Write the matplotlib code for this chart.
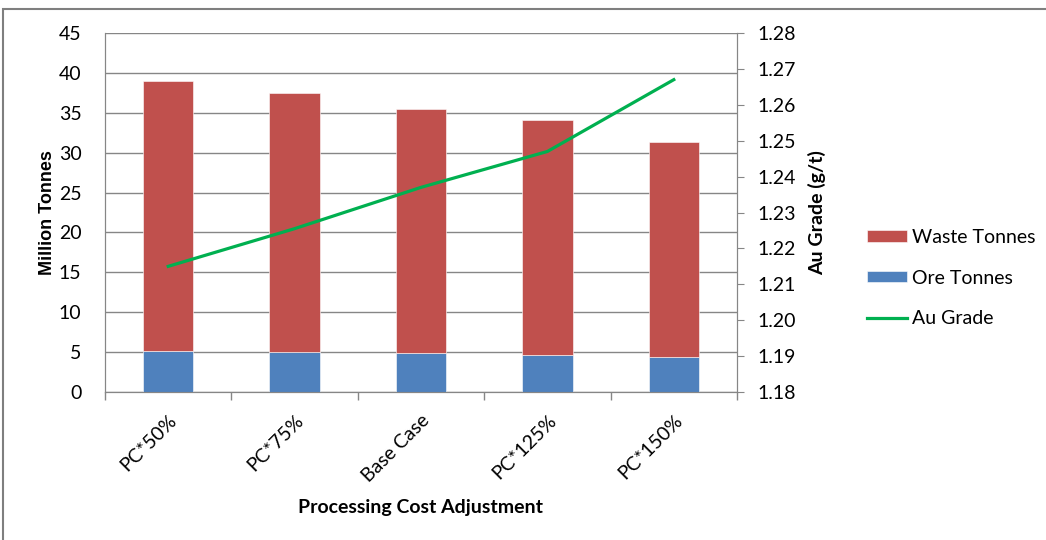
import matplotlib
matplotlib.use("Agg")
import matplotlib.pyplot as plt
from matplotlib.patches import Rectangle
import numpy as np

categories = ["PC*50%", "PC*75%", "Base Case", "PC*125%", "PC*150%"]
ore_tonnes = [5.1, 5.0, 4.9, 4.7, 4.4]
waste_tonnes = [33.9, 32.5, 30.6, 29.4, 26.9]
au_grade = [1.215, 1.2255, 1.237, 1.247, 1.267]

left_ticks = list(range(0, 46, 5))
right_ticks = [1.18, 1.19, 1.20, 1.21, 1.22, 1.23, 1.24, 1.25, 1.26, 1.27, 1.28]

FONT = "Lato"
GRID = "#868686"
ORE = "#4F81BD"
WASTE = "#C0504D"
GREEN = "#00B050"
FS = 14

W, H = 1046, 540
fig = plt.figure(figsize=(W / 100, H / 100), dpi=100)
fig.patch.set_facecolor("white")

# outer chart frame
fig.patches.append(Rectangle((3 / W, -0.1), 1.2, 1 - 9 / H + 0.1, transform=fig.transFigure,
                             fill=False, edgecolor="#7f7f7f", linewidth=1.5, zorder=0))

ax = fig.add_axes([105 / W, 1 - 392 / H, (737 - 105) / W, (392 - 33) / H])
x = np.arange(len(categories))

ax.bar(x, ore_tonnes, width=0.4, color=ORE, edgecolor="white", linewidth=0.4,
       label="Ore Tonnes", zorder=3)
ax.bar(x, waste_tonnes, width=0.4, bottom=ore_tonnes, color=WASTE, edgecolor="white",
       linewidth=0.4, label="Waste Tonnes", zorder=3)

ax.set_xlim(-0.5, len(categories) - 0.5)
ax.set_ylim(0, 45)
ax.set_yticks(left_ticks)
ax.yaxis.grid(True, color=GRID, linewidth=1)
ax.set_axisbelow(True)
ax.tick_params(axis="y", length=0, pad=17, labelsize=FS, labelcolor="black")
for lbl in ax.get_yticklabels():
    lbl.set_fontfamily(FONT)

ax.set_xticks(x)
ax.set_xticks(np.arange(-0.5, len(categories), 1.0), minor=True)
ax.set_xticklabels(categories, rotation=45, ha="right", va="top",
                   rotation_mode="anchor", fontsize=FS, fontfamily=FONT)
ax.tick_params(axis="x", which="major", length=0, pad=14)
ax.tick_params(axis="x", which="minor", length=6, color=GRID, width=1)

for side in ["left", "bottom", "right", "top"]:
    ax.spines[side].set_color(GRID)
ax.spines["top"].set_visible(False)

ax.set_xlabel("Processing Cost Adjustment", fontsize=FS, fontweight="bold", fontfamily=FONT)
ax.xaxis.set_label_coords(0.5, (392 - 508) / 359)
ax.xaxis.label.set_va("center")

ax.set_ylabel("Million Tonnes", fontsize=13, fontweight="bold", fontfamily="Liberation Sans")
ax.yaxis.set_label_coords((47 - 105) / 632, 0.5)
ax.yaxis.label.set_va("center")

ax2 = ax.twinx()
ax2.plot(x, au_grade, color=GREEN, linewidth=2.3, label="Au Grade", zorder=4)
ax2.set_ylim(1.18, 1.28)
ax2.set_yticks(right_ticks)
ax2.set_yticklabels([f"{t:.2f}" for t in right_ticks], fontsize=FS, fontfamily=FONT)
ax2.tick_params(axis="y", length=5, color=GRID, pad=10)
for side in ["left", "bottom", "right", "top"]:
    ax2.spines[side].set_color(GRID)
ax2.spines["top"].set_visible(False)
ax2.set_ylabel("Au Grade (g/t)", fontsize=FS, fontweight="bold", fontfamily=FONT)
ax2.yaxis.set_label_coords((817 - 105) / 632, 0.5)
ax2.yaxis.label.set_va("center")

h1, l1 = ax.get_legend_handles_labels()
h2, l2 = ax2.get_legend_handles_labels()
handles = [h1[1], h1[0], h2[0]]
labels = [l1[1], l1[0], l2[0]]
leg = fig.legend(handles, labels, loc="center left", bbox_to_anchor=(849 / W, 1 - 278 / H),
                 frameon=False, prop={"family": FONT, "size": FS},
                 handlelength=2.1, handleheight=0.55, handletextpad=0.26, labelspacing=1.22)

fig.savefig("out.png", dpi=100, facecolor="white")
